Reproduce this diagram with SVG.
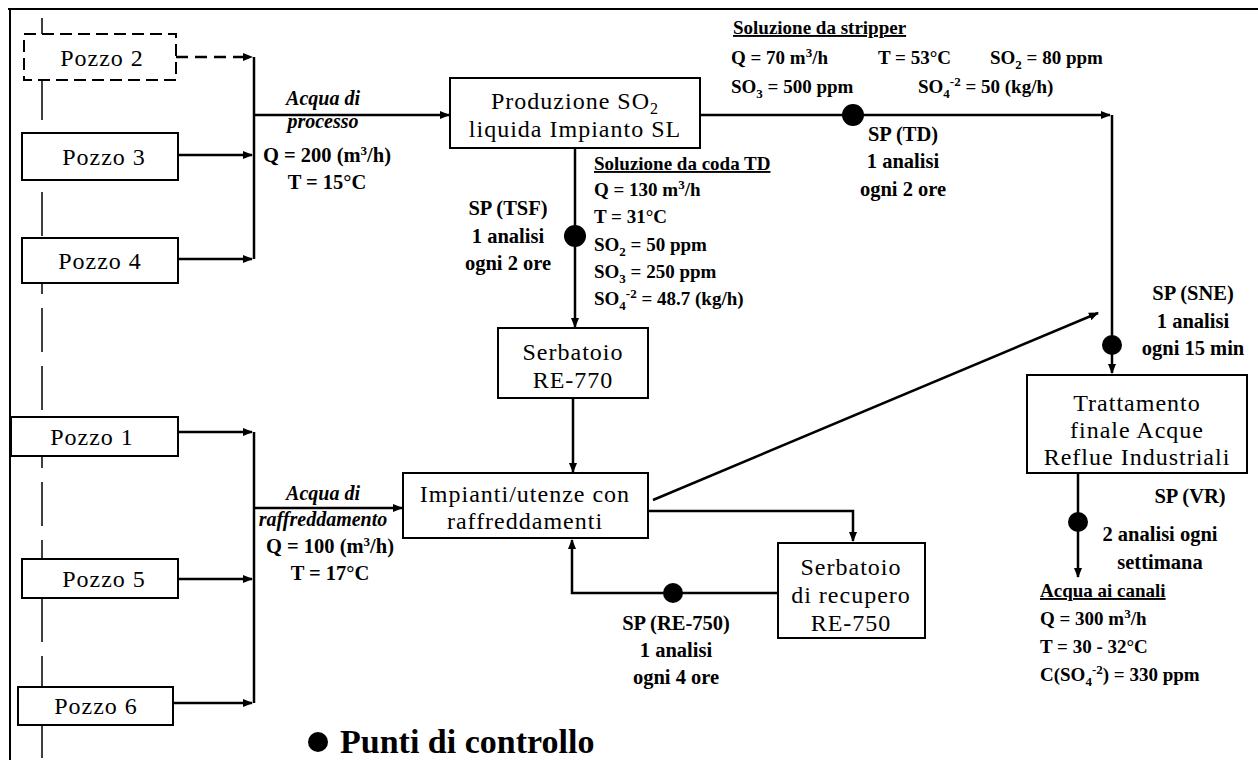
<svg xmlns="http://www.w3.org/2000/svg" width="1258" height="760" viewBox="0 0 1258 760">
<defs>
<marker id="ah" viewBox="0 0 10 10" refX="9" refY="5" markerWidth="10" markerHeight="10" markerUnits="userSpaceOnUse" orient="auto">
<path d="M0,1 L10,5 L0,9 Z" fill="#000"/>
</marker>
<style>
.box{fill:#fff;stroke:#000;stroke-width:2}
.dash{stroke-dasharray:12 6}
.bl{font-family:"Liberation Serif","Times New Roman",serif;font-size:24px;letter-spacing:1px;fill:#000;text-anchor:middle}
.lb{font-family:"Liberation Serif","Times New Roman",serif;font-size:19px;font-weight:bold;fill:#000}
.big{font-size:20.5px}
.c{text-anchor:middle}
.it{font-style:italic;font-size:20px}
.u{text-decoration:underline}
.ln{fill:none;stroke:#000;stroke-width:2.5}
.ar{marker-end:url(#ah)}
.dot{fill:#000}
.frame{stroke:#000;stroke-width:2;fill:none}
.sub{font-size:13px}
</style>
</defs>
<rect width="1258" height="760" fill="#fff"/>
<g id="frame">
<path class="frame" d="M8 9 H1258 M10 9 V760"/>
<path d="M42 18 V760" stroke="#000" stroke-width="1.5" stroke-dasharray="44 14" fill="none"/>
</g>
<g id="connectors">
<path class="ln ar" d="M176 57 H252" stroke-dasharray="12 7"/>
<path class="ln ar" d="M178 155 H252"/>
<path class="ln ar" d="M178 259 H252"/>
<path class="ln" d="M254 57 V259"/>
<path class="ln ar" d="M254 115 H449"/>
<path class="ln ar" d="M700 115 H1110"/>
<path class="ln ar" d="M1112 115 V373"/>
<path class="ln ar" d="M575 148 V327"/>
<path class="ln ar" d="M573 398 V472"/>
<path class="ln ar" d="M178 432 H252"/>
<path class="ln ar" d="M178 579 H252"/>
<path class="ln ar" d="M173 703 H252"/>
<path class="ln" d="M254 432 V703"/>
<path class="ln ar" d="M254 508 H402"/>
<path class="ln ar" d="M653 500 L1098 313"/>
<path class="ln ar" d="M648 511 H853 V541"/>
<path class="ln ar" d="M778 593 H572 V540"/>
<path class="ln ar" d="M1078 473 V577"/>
</g>
<g id="pozzo2"><rect class="box dash" x="24" y="34" width="152" height="46"/><text class="bl" x="102" y="66">Pozzo 2</text></g>
<g id="pozzo3"><rect class="box" x="22" y="133" width="156" height="47"/><text class="bl" x="104" y="165">Pozzo 3</text></g>
<g id="pozzo4"><rect class="box" x="22" y="238" width="156" height="45"/><text class="bl" x="100" y="269">Pozzo 4</text></g>
<g id="pozzo1"><rect class="box" x="11" y="417" width="167" height="39"/><text class="bl" x="92" y="445">Pozzo 1</text></g>
<g id="pozzo5"><rect class="box" x="22" y="559" width="156" height="39"/><text class="bl" x="104" y="587">Pozzo 5</text></g>
<g id="pozzo6"><rect class="box" x="18" y="687" width="155" height="38"/><text class="bl" x="96" y="714">Pozzo 6</text></g>
<g id="produzione"><rect class="box" x="450" y="78" width="250" height="70"/>
<text class="bl" x="575" y="109">Produzione SO<tspan font-size="16" dy="5">2</tspan></text>
<text class="bl" x="575" y="137">liquida Impianto SL</text></g>
<g id="re770"><rect class="box" x="498" y="328" width="150" height="70"/>
<text class="bl" x="573" y="360">Serbatoio</text><text class="bl" x="573" y="388">RE-770</text></g>
<g id="impianti"><rect class="box" x="403" y="473" width="245" height="65"/>
<text class="bl" x="525" y="502">Impianti/utenze con</text><text class="bl" x="525" y="529">raffreddamenti</text></g>
<g id="re750"><rect class="box" x="778" y="543" width="147" height="95"/>
<text class="bl" x="851" y="575">Serbatoio</text><text class="bl" x="851" y="603">di recupero</text><text class="bl" x="851" y="631">RE-750</text></g>
<g id="trattamento"><rect class="box" x="1027" y="375" width="220" height="98"/>
<text class="bl" x="1137" y="411">Trattamento</text><text class="bl" x="1137" y="438">finale Acque</text><text class="bl" x="1137" y="465">Reflue Industriali</text></g>
<g id="points">
<circle class="dot" cx="853" cy="115" r="11"/>
<circle class="dot" cx="575" cy="236" r="11"/>
<circle class="dot" cx="1112" cy="345" r="10"/>
<circle class="dot" cx="673" cy="593" r="10"/>
<circle class="dot" cx="1078" cy="522" r="10"/>
</g>
<g id="labels">
<text class="lb c it" x="323" y="105">Acqua di</text>
<text class="lb c it" x="323" y="128">processo</text>
<text class="lb big c" x="327" y="162">Q = 200 (m<tspan class="sub" dy="-7">3</tspan><tspan dy="7">/h)</tspan></text>
<text class="lb big c" x="327" y="189">T = 15°C</text>

<text class="lb big c" x="508" y="215">SP (TSF)</text>
<text class="lb big c" x="508" y="243">1 analisi</text>
<text class="lb big c" x="508" y="270">ogni 2 ore</text>

<text class="lb u" x="594" y="170">Soluzione da coda TD</text>
<text class="lb" x="594" y="196">Q = 130 m<tspan class="sub" dy="-7">3</tspan><tspan dy="7">/h</tspan></text>
<text class="lb" x="594" y="223">T = 31°C</text>
<text class="lb" x="594" y="251">SO<tspan class="sub" dy="5">2</tspan><tspan dy="-5"> = 50 ppm</tspan></text>
<text class="lb" x="594" y="278">SO<tspan class="sub" dy="5">3</tspan><tspan dy="-5"> = 250 ppm</tspan></text>
<text class="lb" x="594" y="305">SO<tspan class="sub" dy="5">4</tspan><tspan class="sub" dy="-12">-2</tspan><tspan dy="7"> = 48.7 (kg/h)</tspan></text>

<text class="lb u" x="733" y="34">Soluzione da stripper</text>
<text class="lb" x="731" y="64">Q = 70 m<tspan class="sub" dy="-7">3</tspan><tspan dy="7">/h</tspan></text>
<text class="lb" x="878" y="64">T = 53°C</text>
<text class="lb" x="990" y="64">SO<tspan class="sub" dy="5">2</tspan><tspan dy="-5"> = 80 ppm</tspan></text>
<text class="lb" x="731" y="93">SO<tspan class="sub" dy="5">3</tspan><tspan dy="-5"> = 500 ppm</tspan></text>
<text class="lb" x="918" y="93">SO<tspan class="sub" dy="5">4</tspan><tspan class="sub" dy="-12">-2</tspan><tspan dy="7"> = 50 (kg/h)</tspan></text>

<text class="lb big c" x="903" y="141">SP (TD)</text>
<text class="lb big c" x="903" y="168">1 analisi</text>
<text class="lb big c" x="903" y="196">ogni 2 ore</text>

<text class="lb big c" x="1193" y="300">SP (SNE)</text>
<text class="lb big c" x="1193" y="328">1 analisi</text>
<text class="lb big c" x="1193" y="355">ogni 15 min</text>

<text class="lb big c" x="1190" y="503">SP (VR)</text>
<text class="lb big c" x="1160" y="541">2 analisi ogni</text>
<text class="lb big c" x="1160" y="569">settimana</text>

<text class="lb u" x="1040" y="597">Acqua ai canali</text>
<text class="lb" x="1040" y="625">Q = 300 m<tspan class="sub" dy="-7">3</tspan><tspan dy="7">/h</tspan></text>
<text class="lb" x="1040" y="653">T = 30 - 32°C</text>
<text class="lb" x="1040" y="681">C(SO<tspan class="sub" dy="5">4</tspan><tspan class="sub" dy="-12">-2</tspan><tspan dy="7">) = 330 ppm</tspan></text>

<text class="lb c it" x="323" y="500">Acqua di</text>
<text class="lb c it" x="323" y="526">raffreddamento</text>
<text class="lb big c" x="330" y="553">Q = 100 (m<tspan class="sub" dy="-7">3</tspan><tspan dy="7">/h)</tspan></text>
<text class="lb big c" x="330" y="580">T = 17°C</text>

<text class="lb big c" x="676" y="630">SP (RE-750)</text>
<text class="lb big c" x="676" y="657">1 analisi</text>
<text class="lb big c" x="676" y="684">ogni 4 ore</text>
</g>
<g id="legend">
<circle class="dot" cx="318" cy="742" r="10"/>
<text x="340" y="753" font-family="'Liberation Serif','Times New Roman',serif" font-size="34" font-weight="bold">Punti di controllo</text>
</g>
</svg>
